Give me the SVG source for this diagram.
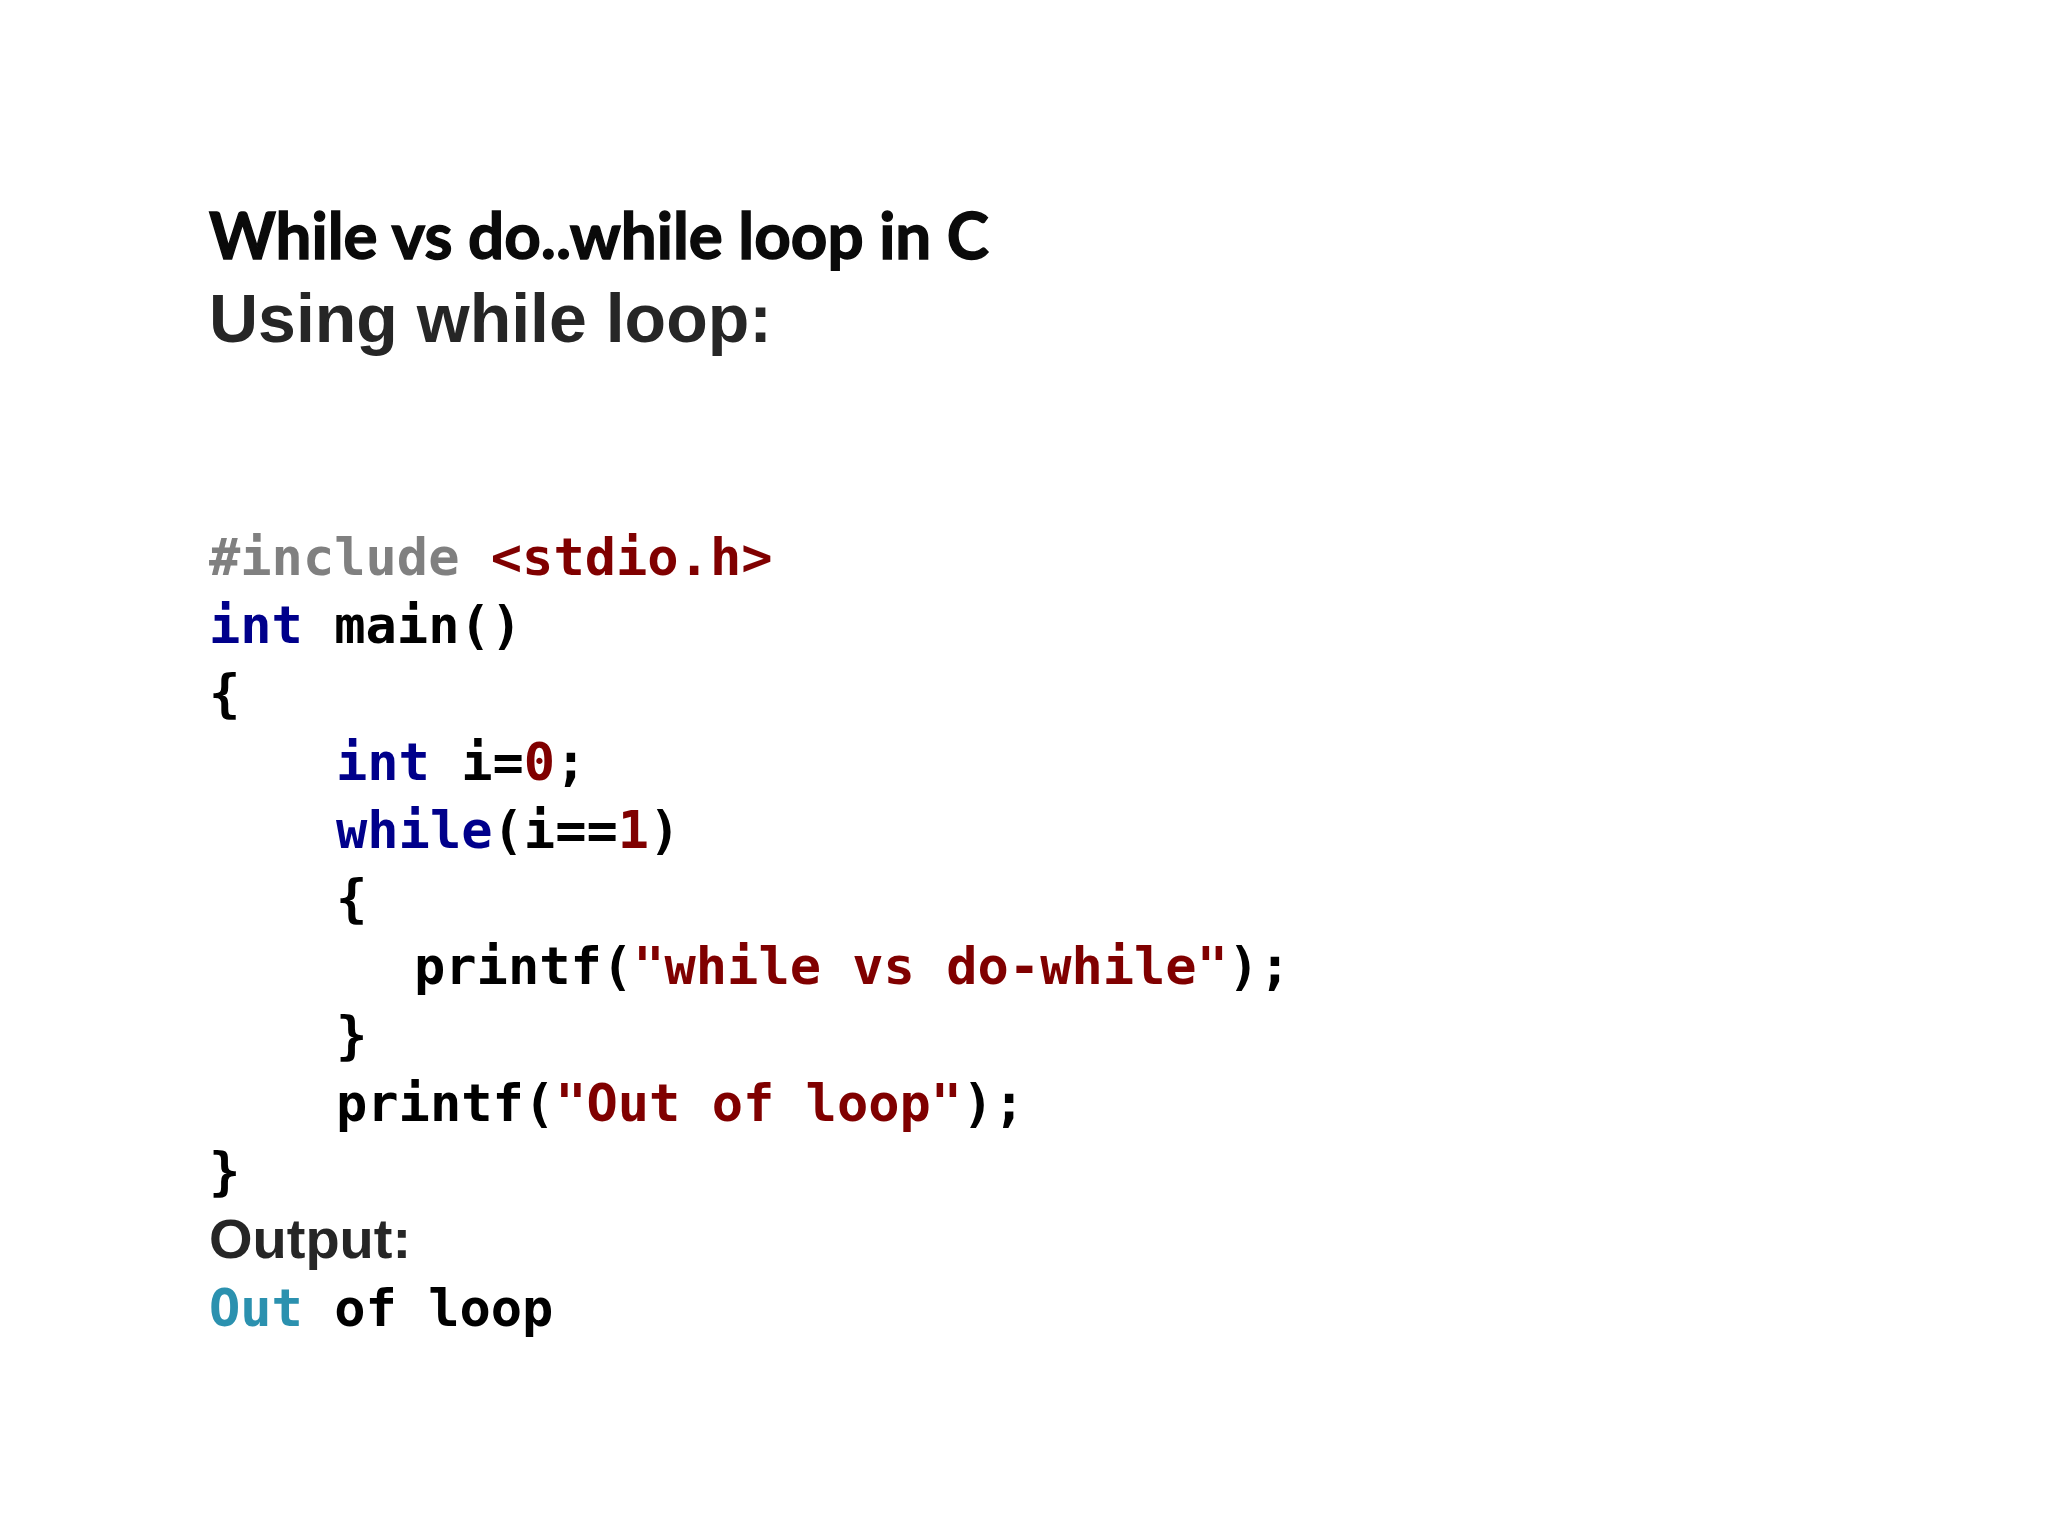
<svg xmlns="http://www.w3.org/2000/svg" width="2048" height="1536" viewBox="0 0 2048 1536">
<style>
.title{font-family:Lato,"Open Sans","Liberation Sans",sans-serif;font-weight:700;font-size:65px;fill:#0a0a0a;stroke:#0a0a0a;stroke-width:1.4px}
.sub{font-family:"Liberation Sans",Arial,sans-serif;font-weight:700;fill:#262626}
.code{font-family:"DejaVu Sans Mono","Liberation Mono",monospace;font-weight:700;font-size:52px;fill:#000000}
.pp{fill:#808080}
.kw{fill:#00008b}
.str{fill:#800000}
.ty{fill:#2b91af}
</style>
<rect x="0" y="0" width="2048" height="1536" fill="#ffffff"/>
<g id="heading">
<text class="title" x="209" y="259" textLength="780" lengthAdjust="spacingAndGlyphs">While vs do..while loop in C</text>
<text class="sub" x="209" y="342" font-size="68">Using while loop:</text>
</g>
<g id="code">
<text class="code" x="209" y="575"><tspan class="pp">#include</tspan> <tspan class="str">&lt;stdio.h&gt;</tspan></text>
<text class="code" x="209" y="643"><tspan class="kw">int</tspan> main()</text>
<text class="code" x="209" y="711">{</text>
<text class="code" x="336" y="780"><tspan class="kw">int</tspan> i=<tspan class="str">0</tspan>;</text>
<text class="code" x="336" y="848"><tspan class="kw">while</tspan>(i==<tspan class="str">1</tspan>)</text>
<text class="code" x="336" y="916">{</text>
<text class="code" x="414" y="984">printf(<tspan class="str">"while vs do-while"</tspan>);</text>
<text class="code" x="336" y="1053">}</text>
<text class="code" x="336" y="1121">printf(<tspan class="str">"Out of loop"</tspan>);</text>
<text class="code" x="209" y="1189">}</text>
</g>
<g id="output">
<text class="sub" x="209" y="1258" font-size="56">Output:</text>
<text class="code" x="209" y="1326"><tspan class="ty">Out</tspan> of loop</text>
</g>
</svg>
